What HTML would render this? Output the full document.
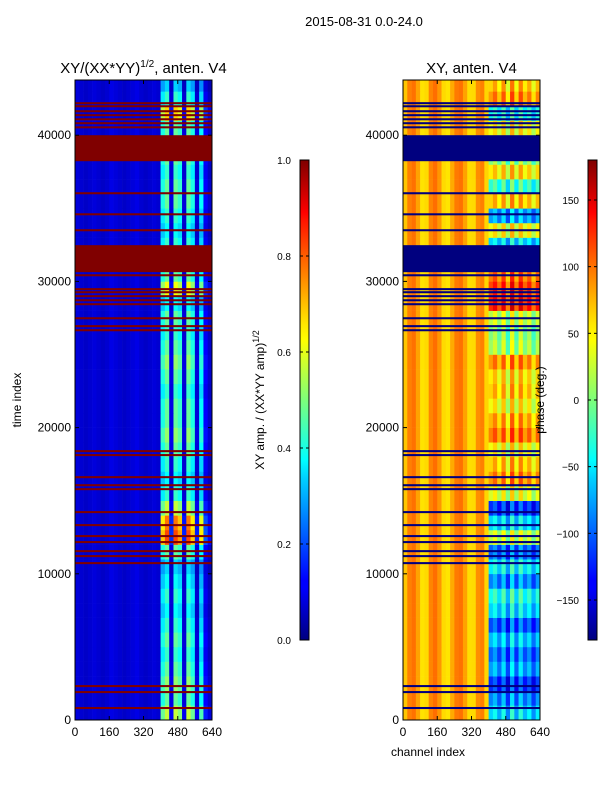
<!DOCTYPE html>
<html><head><meta charset="utf-8">
<style>
body{margin:0;background:#fff;width:600px;height:800px;overflow:hidden;font-family:"Liberation Sans",sans-serif;}
svg text{font-family:"Liberation Sans","DejaVu Sans",sans-serif;}
</style></head>
<body>
<svg id="fig" width="600" height="800" xmlns="http://www.w3.org/2000/svg">
<defs>
<linearGradient id="jet" x1="0" y1="1" x2="0" y2="0">
<stop offset="0" stop-color="#00007f"/><stop offset="0.11" stop-color="#0000ff"/>
<stop offset="0.125" stop-color="#0000ff"/><stop offset="0.34" stop-color="#00d4ff"/>
<stop offset="0.375" stop-color="#0ff"/><stop offset="0.5" stop-color="#7dff7a"/>
<stop offset="0.625" stop-color="#ff0"/><stop offset="0.66" stop-color="#ffe600"/>
<stop offset="0.875" stop-color="#ff1300"/><stop offset="0.89" stop-color="#f00"/>
<stop offset="1" stop-color="#7f0000"/>
</linearGradient>
</defs>
<text x="364" y="26" font-size="13" text-anchor="middle">2015-08-31 0.0-24.0</text>
<g id="p1"></g>
<g id="p2"></g>
<text x="143.5" y="73" font-size="15" text-anchor="middle">XY/(XX*YY)<tspan font-size="10" dy="-6">1/2</tspan><tspan dy="6">, anten. V4</tspan></text>
<text x="471.5" y="73" font-size="15" text-anchor="middle">XY, anten. V4</text>
<text x="21" y="400" font-size="12" text-anchor="middle" transform="rotate(-90 21 400)">time index</text>
<text x="428" y="756" font-size="12" text-anchor="middle">channel index</text>
<text x="264" y="400" font-size="12" text-anchor="middle" transform="rotate(-90 264 400)">XY amp. / (XX*YY amp)<tspan font-size="9" dy="-5">1/2</tspan></text>
<text x="544" y="400" font-size="12" text-anchor="middle" transform="rotate(-90 544 400)">phase (deg.)</text>
<g id="cb1"></g>
<g id="cb2"></g>
</svg>
<script>
// ---- data ----
const channelBinWidth = 20;            // channels per bin, 32 bins -> 640
const timeSegWidth = 1000;             // time units per segment
const xTicks = [0,160,320,480,640];
const yTicks = [0,10000,20000,30000,40000];
const ampTicks = [0.0,0.2,0.4,0.6,0.8,1.0];
const phaseTicks = [-150,-100,-50,0,50,100,150];
// amplitude: low-channel baseline per bin (bins 0-19)
const ampBase = [0.09,0.08,0.07,0.08,0.09,0.08,0.07,0.08,0.1,0.09,0.08,0.07,0.08,0.09,0.1,0.08,0.07,0.08,0.09,0.08];
// amplitude: high-channel multipliers (bins 20-31)
const ampMult = [0.8,0.95,0.2,0.95,0.85,0.18,0.95,0.8,0.18,0.75,0.25,0.15];
// amplitude activity per time segment (0..44k)
const ampActivity = [0.6,0.5,0.55,0.5,0.45,0.5,0.45,0.4,0.45,0.4,0.35,0.5,0.85,0.8,0.6,0.45,0.4,0.45,0.5,0.55,0.5,0.5,0.45,0.5,0.55,0.5,0.45,0.5,0.4,0.65,0.5,0.5,0.45,0.4,0.45,0.5,0.5,0.45,0.5,0.5,0.5,0.7,0.45,0.35];
// phase: low-channel per bin (deg)
const phaseBase = [65,90,95,78,55,58,88,96,82,58,54,75,92,95,78,57,58,85,90,60];
// phase: high-channel per segment (deg)
const phaseActivity = [-60,-90,-120,-80,-100,-70,-110,-60,-40,-90,-50,-100,20,-60,-120,30,80,60,40,90,70,40,60,50,80,10,0,20,120,110,90,90,-60,40,-80,60,-30,50,0,0,40,-40,80,60];
const phaseOffset = [0,20,-15,25,-30,35,-20,30,-10,15,-25,10];
// flagged rows: [start, end] in time index (saturated / masked)
const badStart = [42120,41910,41570,41300,41020,40750,40470,38222,35960,34520,33430,30632,30350,29400,29190,28920,28640,28370,27410,26870,26590,18320,18050,16540,15990,15720,14150,13260,12510,12100,11480,11140,10660,2250,1840,750];
const badEnd   = [42260,42050,41710,41440,41160,40890,40610,40000,36100,34660,33570,32479,30490,29540,29330,29060,28780,28510,27550,27010,26730,18460,18190,16680,16130,15860,14290,13400,12650,12240,11620,11280,10800,2390,1980,890];

// ---- helpers ----
const NS="http://www.w3.org/2000/svg";
const T_MAX=43776, Y0=720, Y1=80;
function jet(v){v=Math.max(0,Math.min(1,v));
 const r=Math.max(0,Math.min(1,1.5-Math.abs(4*v-3))),g=Math.max(0,Math.min(1,1.5-Math.abs(4*v-2))),b=Math.max(0,Math.min(1,1.5-Math.abs(4*v-1)));
 return `rgb(${Math.round(r*255)},${Math.round(g*255)},${Math.round(b*255)})`;}
const yScale=t=>Y0-(t/T_MAX)*(Y0-Y1);
function mk(tag,attrs,parent){const e=document.createElementNS(NS,tag);for(const k in attrs)e.setAttribute(k,attrs[k]);parent.appendChild(e);return e;}

function drawPanel(g,x0,valueFn,badColor){
 const x1=x0+137, xs=c=>x0+(c/640)*137;
 const nb=640/channelBinWidth;
 for(let s=0;s<ampActivity.length;s++){
  const ta=s*timeSegWidth, tb=Math.min(T_MAX,(s+1)*timeSegWidth);
  for(let b=0;b<nb;b++){
   const r=mk('rect',{x:xs(b*channelBinWidth),y:yScale(tb),width:xs((b+1)*channelBinWidth)-xs(b*channelBinWidth)+0.3,height:yScale(ta)-yScale(tb)+0.3,fill:jet(valueFn(b,s))},g);
   
   
  }
 }
 for(let i=0;i<badStart.length;i++){
  const r=mk('rect',{x:x0,y:yScale(badEnd[i]),width:137,height:Math.max(1.2,yScale(badStart[i])-yScale(badEnd[i])),fill:badColor},g);
  
  
 }
 mk('rect',{x:x0,y:Y1,width:137,height:Y0-Y1,fill:'none',stroke:'#000','stroke-width':1},g);
 xTicks.forEach(c=>{const x=xs(c);
  mk('line',{x1:x,x2:x,y1:Y0,y2:Y0-4,stroke:'#000'},g);mk('line',{x1:x,x2:x,y1:Y1,y2:Y1+4,stroke:'#000'},g);
  const t=mk('text',{x:x,y:Y0+16,'font-size':12,'text-anchor':'middle'},g);t.textContent=c;
  
  });
 yTicks.forEach(v=>{const y=yScale(v);
  mk('line',{x1:x0,x2:x0+4,y1:y,y2:y,stroke:'#000'},g);mk('line',{x1:x1,x2:x1-4,y1:y,y2:y,stroke:'#000'},g);
  const t=mk('text',{x:x0-4,y:y+4,'font-size':12,'text-anchor':'end'},g);t.textContent=v;
  
  });
}
drawPanel(document.getElementById('p1'),75,(b,s)=>b<20?ampBase[b]:ampActivity[s]*ampMult[b-20],'#800000');
drawPanel(document.getElementById('p2'),403,(b,s)=>{const p=b<20?phaseBase[b]:phaseActivity[s]+phaseOffset[b-20];return (p+180)/360;},'#00007f');

function drawCB(g,x,ticks,lo,hi,fmt){
 mk('rect',{x:x,y:160,width:9,height:480,fill:'url(#jet)',stroke:'#000','stroke-width':1},g);
 ticks.forEach(v=>{const y=640-(v-lo)/(hi-lo)*480;
  mk('line',{x1:x,x2:x+3,y1:y,y2:y,stroke:'#000'},g);mk('line',{x1:x+9,x2:x+6,y1:y,y2:y,stroke:'#000'},g);
  const t=mk('text',{x:x-9,y:y+4,'font-size':10,'text-anchor':'end'},g);t.textContent=fmt(v);
  
  });
}
drawCB(document.getElementById('cb1'),300,ampTicks,0,1,v=>v.toFixed(1));
drawCB(document.getElementById('cb2'),588,phaseTicks,-180,180,v=>v<0?'\u2212'+(-v):String(v));
</script>
</body></html>
